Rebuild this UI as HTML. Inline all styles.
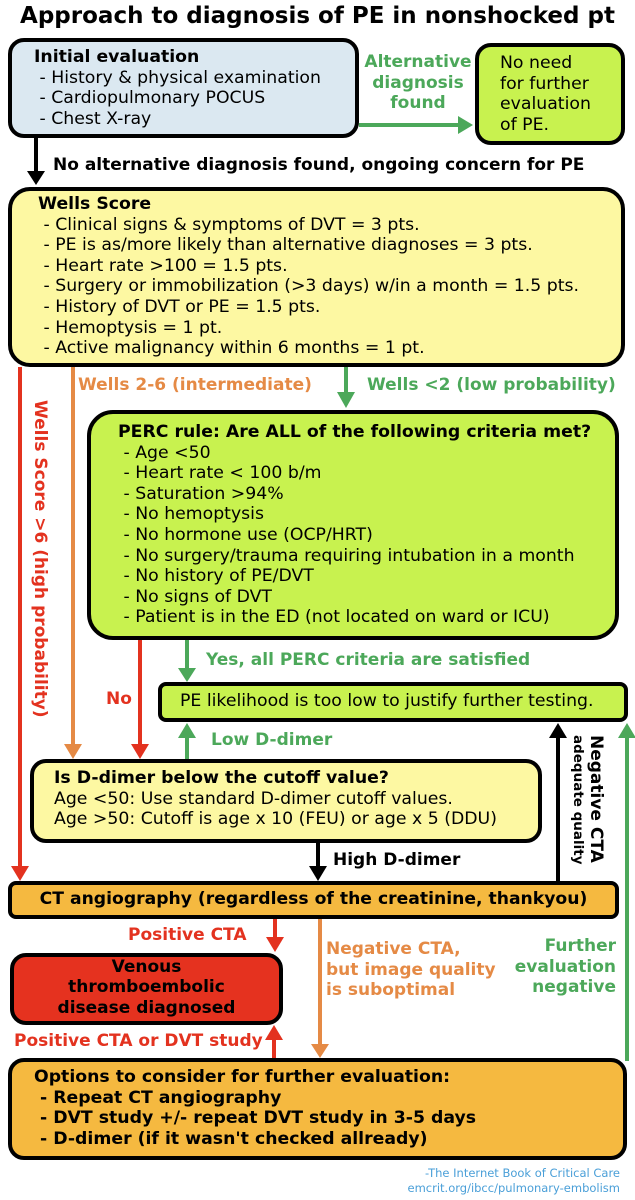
<!DOCTYPE html>
<html><head><meta charset="utf-8"><style>
*{margin:0;padding:0;box-sizing:border-box}
body{width:635px;height:1200px;background:#fff;position:relative;overflow:hidden;font-family:"DejaVu Sans","Liberation Sans",sans-serif;color:#000}
.a{position:absolute;white-space:nowrap}
.box{position:absolute;border:4px solid #000;border-radius:16px}
.t{position:absolute;white-space:nowrap;font-size:17.3px;line-height:20.6px}
.b{font-weight:bold}
.g{color:#4ca85a;font-weight:bold}
.o{color:#e58a45;font-weight:bold}
.r{color:#e3321f;font-weight:bold}
</style></head><body>
<div class="a b" style="left:0;width:635px;text-align:center;top:3px;font-size:23px">Approach to diagnosis of PE in nonshocked pt</div>

<svg width="635" height="1200" style="position:absolute;left:0;top:0">
<g stroke-width="4" fill="none">
<line x1="359" y1="125" x2="462" y2="125" stroke="#4ca85a"/>
<line x1="36" y1="138" x2="36" y2="175" stroke="#000"/>
<line x1="20" y1="367" x2="20" y2="870" stroke="#e3321f"/>
<line x1="73" y1="367" x2="73" y2="748" stroke="#e58a45"/>
<line x1="346" y1="367" x2="346" y2="396" stroke="#4ca85a"/>
<line x1="140" y1="640" x2="140" y2="748" stroke="#e3321f"/>
<line x1="187" y1="640" x2="187" y2="672" stroke="#4ca85a"/>
<line x1="187" y1="759" x2="187" y2="734" stroke="#4ca85a"/>
<line x1="318" y1="842" x2="318" y2="870" stroke="#000"/>
<line x1="558" y1="881" x2="558" y2="734" stroke="#000"/>
<line x1="627" y1="1061" x2="627" y2="734" stroke="#4ca85a"/>
<line x1="275" y1="918" x2="275" y2="940" stroke="#e3321f"/>
<line x1="320" y1="918" x2="320" y2="1048" stroke="#e58a45"/>
<line x1="274" y1="1058" x2="274" y2="1036" stroke="#e3321f"/>
</g>
<polygon points="458,116 473,125 458,134" fill="#4ca85a"/>
<polygon points="27,171 45,171 36,185" fill="#000"/>
<polygon points="11,866 29,866 20,881" fill="#e3321f"/>
<polygon points="64,744 82,744 73,759" fill="#e58a45"/>
<polygon points="337,392 355,392 346,408" fill="#4ca85a"/>
<polygon points="131,744 149,744 140,759" fill="#e3321f"/>
<polygon points="178,668 196,668 187,682" fill="#4ca85a"/>
<polygon points="178,738 196,738 187,723" fill="#4ca85a"/>
<polygon points="309,866 327,866 318,881" fill="#000"/>
<polygon points="549,738 567,738 558,723" fill="#000"/>
<polygon points="618,738 636,738 627,723" fill="#4ca85a"/>
<polygon points="266,937 284,937 275,952" fill="#e3321f"/>
<polygon points="311,1044 329,1044 320,1058" fill="#e58a45"/>
<polygon points="265,1040 283,1040 274,1025" fill="#e3321f"/>
</svg>

<div class="box" style="left:8px;top:38px;width:351px;height:100px;background:#dbe8f1"></div>
<div class="t" style="left:34px;top:47px"><b>Initial evaluation</b><br>&nbsp;- History &amp; physical examination<br>&nbsp;- Cardiopulmonary POCUS<br>&nbsp;- Chest X-ray</div>
<div class="a g" style="left:360px;width:116px;text-align:center;top:52px;font-size:17px;line-height:20.5px">Alternative<br>diagnosis<br>found</div>
<div class="box" style="left:475px;top:43px;width:150px;height:102px;background:#c8f24f"></div>
<div class="t" style="left:500px;top:53px">No need<br>for further<br>evaluation<br>of PE.</div>

<div class="a b" style="left:53px;top:155px;font-size:17px">No alternative diagnosis found, ongoing concern for PE</div>

<div class="box" style="left:8px;top:187px;width:617px;height:180px;background:#fdf8a2;border-radius:22px"></div>
<div class="t" style="left:38px;top:194px"><b>Wells Score</b><br>&nbsp;- Clinical signs &amp; symptoms of DVT = 3 pts.<br>&nbsp;- PE is as/more likely than alternative diagnoses = 3 pts.<br>&nbsp;- Heart rate &gt;100 = 1.5 pts.<br>&nbsp;- Surgery or immobilization (&gt;3 days) w/in a month = 1.5 pts.<br>&nbsp;- History of DVT or PE = 1.5 pts.<br>&nbsp;- Hemoptysis = 1 pt.<br>&nbsp;- Active malignancy within 6 months = 1 pt.</div>

<div class="a o" style="left:78px;top:375px;font-size:17px">Wells 2-6 (intermediate)</div>
<div class="a g" style="left:367px;top:375px;font-size:17px">Wells &lt;2 (low probability)</div>
<div class="a r" style="left:30px;top:400px;font-size:17px;transform-origin:0 0;transform:translate(20px,0) rotate(90deg)">Wells Score &gt;6 (high probability)</div>

<div class="box" style="left:87px;top:410px;width:532px;height:230px;background:#c8f24f;border-radius:26px"></div>
<div class="t" style="left:118px;top:422px"><b>PERC rule: Are ALL of the following criteria met?</b><br>&nbsp;- Age &lt;50<br>&nbsp;- Heart rate &lt; 100 b/m<br>&nbsp;- Saturation &gt;94%<br>&nbsp;- No hemoptysis<br>&nbsp;- No hormone use (OCP/HRT)<br>&nbsp;- No surgery/trauma requiring intubation in a month<br>&nbsp;- No history of PE/DVT<br>&nbsp;- No signs of DVT<br>&nbsp;- Patient is in the ED (not located on ward or ICU)</div>

<div class="a g" style="left:206px;top:650px;font-size:17px">Yes, all PERC criteria are satisfied</div>
<div class="a r" style="left:106px;top:689px;font-size:17px">No</div>
<div class="box" style="left:158px;top:682px;width:470px;height:40px;background:#c8f24f;border-radius:8px"></div>
<div class="t" style="left:180px;top:691px">PE likelihood is too low to justify further testing.</div>
<div class="a g" style="left:211px;top:730px;font-size:17px">Low D-dimer</div>

<div class="box" style="left:30px;top:759px;width:512px;height:84px;background:#fdf8a2"></div>
<div class="t" style="left:54px;top:768px"><b>Is D-dimer below the cutoff value?</b><br>Age &lt;50: Use standard D-dimer cutoff values.<br>Age &gt;50: Cutoff is age x 10 (FEU) or age x 5 (DDU)</div>
<div class="a b" style="left:333px;top:850px;font-size:17px">High D-dimer</div>
<div class="a b" style="left:568px;top:735px;font-size:17px;line-height:17px;transform-origin:0 0;transform:translate(36px,0) rotate(90deg)">Negative CTA<br><span style="font-size:13.5px">adequate quality</span></div>

<div class="box" style="left:8px;top:881px;width:611px;height:38px;background:#f5b940;border-radius:8px"></div>
<div class="a b" style="left:8px;width:611px;text-align:center;top:889px;font-size:17.2px">CT angiography (regardless of the creatinine, thankyou)</div>

<div class="a r" style="left:128px;top:925px;font-size:17px">Positive CTA</div>
<div class="box" style="left:10px;top:953px;width:273px;height:72px;background:#e5321f"></div>
<div class="a b" style="left:10px;width:273px;text-align:center;top:957px;font-size:17px;line-height:20.3px">Venous<br>thromboembolic<br>disease diagnosed</div>
<div class="a o" style="left:326px;top:939px;font-size:17px;line-height:20.5px">Negative CTA,<br>but image quality<br>is suboptimal</div>
<div class="a g" style="right:19px;top:936px;font-size:17px;line-height:20.5px;text-align:right">Further<br>evaluation<br>negative</div>
<div class="a r" style="left:14px;top:1031px;font-size:17px">Positive CTA or DVT study</div>

<div class="box" style="left:8px;top:1058px;width:619px;height:102px;background:#f5b940"></div>
<div class="t b" style="left:34px;top:1067px">Options to consider for further evaluation:<br>&nbsp;- Repeat CT angiography<br>&nbsp;- DVT study +/- repeat DVT study in 3-5 days<br>&nbsp;- D-dimer (if it wasn't checked allready)</div>

<div class="a" style="right:15px;top:1166px;font-size:11.5px;line-height:15px;color:#4a9fd8;text-align:right">-The Internet Book of Critical Care<br>emcrit.org/ibcc/pulmonary-embolism</div>
</body></html>
